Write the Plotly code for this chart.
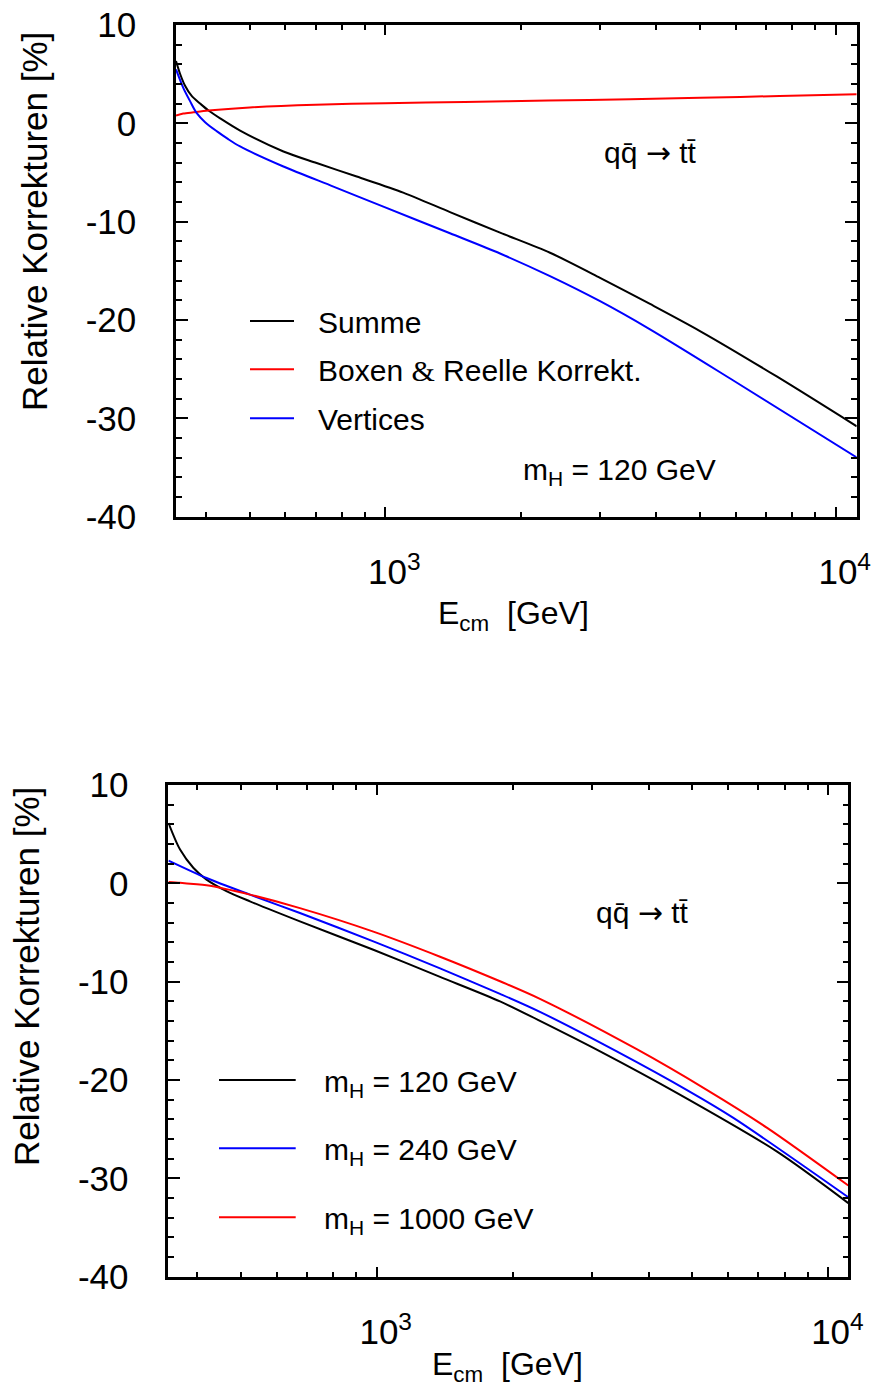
import plotly.graph_objects as go

# ---------------- data ----------------
# top panel: m_H = 120 GeV, decomposition of the correction
E_summe = [343, 350, 359, 372, 388, 405, 429, 476, 594, 704, 864, 1096, 1392, 1798, 2321, 2998, 3870, 4996, 7396, 11134]
summe = [6.33, 5.07, 3.85, 2.76, 2.01, 1.30, 0.53, -0.74, -2.86, -4.04, -5.41, -7.04, -9.03, -11.12, -13.16, -15.71, -18.37, -21.12, -25.74, -30.81]

E_boxen = [343, 356, 375, 405, 500, 700, 1000, 1500, 2300, 3500, 5000, 7500, 11134]
boxen = [0.79, 0.99, 1.12, 1.30, 1.62, 1.90, 2.05, 2.18, 2.31, 2.46, 2.60, 2.78, 2.96]

E_vert = [343, 356, 369, 381, 398, 423, 448, 476, 594, 767, 990, 1392, 1798, 2321, 2998, 3870, 5925, 11134]
vertices = [5.48, 3.61, 2.21, 1.06, 0.12, -0.82, -1.61, -2.35, -4.39, -6.43, -8.47, -11.18, -13.24, -15.54, -18.09, -20.95, -26.15, -33.98]

# bottom panel: total correction for three Higgs masses
E_mh120 = [346, 367, 393, 420, 466, 524, 676, 983, 1381, 1875, 2298, 3122, 4615, 7683, 11066]
mh120 = [6.13, 3.43, 1.56, 0.38, -0.81, -1.83, -3.87, -6.75, -9.51, -12.0, -13.99, -17.09, -21.31, -27.26, -32.52]

E_mh240 = [346, 420, 524, 676, 983, 1381, 1875, 2298, 3399, 4896, 6160, 11066]
mh240 = [2.31, 0.54, -1.15, -3.02, -5.90, -8.65, -11.24, -13.07, -17.09, -21.10, -23.85, -31.92]

E_mh1000 = [346, 367, 393, 420, 524, 676, 983, 1381, 1875, 2298, 3764, 5378, 7303, 11066]
mh1000 = [0.13, 0.05, -0.07, -0.20, -1.15, -2.52, -4.91, -7.46, -9.96, -11.75, -16.87, -21.0, -24.84, -30.73]

top_names = ["Summe", "Boxen <span style=\"font-family:'Liberation Serif'\">&amp;</span> Reelle Korrekt.", "Vertices"]
bot_names = ["m<sub>H</sub> = 120 GeV", "m<sub>H</sub> = 240 GeV", "m<sub>H</sub> = 1000 GeV"]

x_major = [1000, 10000]
x_major_text = ["10<sup>3</sup>", "10<sup>4</sup>"]
x_minor = [400, 500, 600, 700, 800, 900, 2000, 3000, 4000, 5000, 6000, 7000, 8000, 9000]
y_major = [-40, -30, -20, -10, 0, 10]
y_major_text = ["-40", "-30", "-20", "-10", "0", "10"]

# ---------------- layout helpers ----------------
W, H = 884, 1392
OFF = 0  # body margin removed below, so figure pixels = window pixels
FONT = "Liberation Sans, Arial, sans-serif"


def fx(p):
    return (p - OFF) / W


def fy(p):
    return 1 - (p - OFF) / H


BLACK, RED, BLUE = "#000000", "#ff0000", "#0000ff"

fig = go.Figure()

top_series = [(E_summe, summe, BLACK), (E_boxen, boxen, RED), (E_vert, vertices, BLUE)]
for (xs, ys, c), nm in zip(top_series, top_names):
    fig.add_trace(go.Scatter(x=xs, y=ys, mode="lines", line=dict(color=c, width=2, shape="spline", smoothing=0.8),
                             name=nm, showlegend=False, xaxis="x", yaxis="y", hoverinfo="skip"))

bot_series = [(E_mh120, mh120, BLACK), (E_mh240, mh240, BLUE), (E_mh1000, mh1000, RED)]
for (xs, ys, c), nm in zip(bot_series, bot_names):
    fig.add_trace(go.Scatter(x=xs, y=ys, mode="lines", line=dict(color=c, width=2, shape="spline", smoothing=0.8),
                             name=nm, showlegend=False, xaxis="x2", yaxis="y2", hoverinfo="skip"))


def xaxis_cfg(dom, rng, anchor):
    return dict(type="log", range=rng, domain=dom, anchor=anchor, automargin=False,
                showline=True, linecolor="black", linewidth=2.5, mirror="ticks",
                ticks="inside", ticklen=10, tickwidth=2, tickcolor="black",
                tickmode="array", tickvals=x_major, ticktext=x_major_text,
                tickfont=dict(family=FONT, size=35, color="black"),
                ticklabelstandoff=23, ticklabelshift=9, ticklabeloverflow="allow",
                minor=dict(ticks="inside", ticklen=5, tickwidth=2, tickcolor="black",
                           tickmode="array", tickvals=x_minor, showgrid=False),
                showgrid=False, zeroline=False)


def yaxis_cfg(dom, anchor):
    return dict(range=[-40, 10], domain=dom, anchor=anchor, automargin=False,
                showline=True, linecolor="black", linewidth=2.5, mirror="ticks",
                ticks="inside", ticklen=12, tickwidth=2, tickcolor="black",
                tickmode="array", tickvals=y_major, ticktext=y_major_text,
                tickfont=dict(family=FONT, size=35, color="black"),
                ticklabelstandoff=30, ticklabeloverflow="allow",
                minor=dict(ticks="inside", ticklen=6, tickwidth=2, tickcolor="black", dtick=2, showgrid=False),
                showgrid=False, zeroline=False)


fig.update_layout(
    width=W, height=H, margin=dict(l=0, r=0, t=0, b=0, autoexpand=False),
    paper_bgcolor="white", plot_bgcolor="white", showlegend=False,
    font=dict(family=FONT, color="black"),
    xaxis=xaxis_cfg([fx(176), fx(856.7)], [2.5353, 4.0466], "y"),
    yaxis=yaxis_cfg([fy(516.7), fy(25)], "x"),
    xaxis2=xaxis_cfg([fx(168.3), fx(848.3)], [2.5386, 4.044], "y2"),
    yaxis2=yaxis_cfg([fy(1276.7), fy(785)], "x2"),
)

ann = []
shapes = []


def text(x, y, s, size, xanchor="center", yanchor="middle", angle=0):
    ann.append(dict(x=fx(x), y=fy(y), xref="paper", yref="paper", text=s, showarrow=False,
                    xanchor=xanchor, yanchor=yanchor, textangle=angle,
                    font=dict(family=FONT, size=size, color="black")))


ARROW = "<span style=\"font-family:'DejaVu Sans'\">\u2192</span>"

# axis titles
text(34, 222, "Relative Korrekturen [%]", 35, angle=-90)
text(26, 977, "Relative Korrekturen [%]", 35, angle=-90)
text(513.5, 615, "E<sub>cm</sub>\u00a0\u00a0[GeV]", 32)
text(507.5, 1366, "E<sub>cm</sub>\u00a0\u00a0[GeV]", 32)

# process labels
text(650, 152, "qq\u0304 " + ARROW + " tt\u0304", 30)
text(642.7, 912, "qq\u0304 " + ARROW + " tt\u0304", 30)
text(520.7, 472, "m<sub>H</sub> = 120 GeV", 30, xanchor="left")

# legends (drawn manually)
for (_, _, c), nm, yy in zip(top_series, top_names, [321, 369.3, 418.3]):
    shapes.append(dict(type="line", xref="paper", yref="paper", x0=fx(250), x1=fx(294), y0=fy(yy), y1=fy(yy),
                       line=dict(color=c, width=2)))
    text(315.7, yy + 1, nm, 30, xanchor="left")

for (_, _, c), nm, yy in zip(bot_series, bot_names, [1080, 1148.3, 1217.3]):
    shapes.append(dict(type="line", xref="paper", yref="paper", x0=fx(219), x1=fx(295.7), y0=fy(yy), y1=fy(yy),
                       line=dict(color=c, width=2)))
    text(321.7, yy + 3, nm, 30, xanchor="left")

fig.update_layout(annotations=ann, shapes=shapes)
fig.write_html("out.html", config={"displayModeBar": False},
               post_script="document.body.style.margin='0';")
